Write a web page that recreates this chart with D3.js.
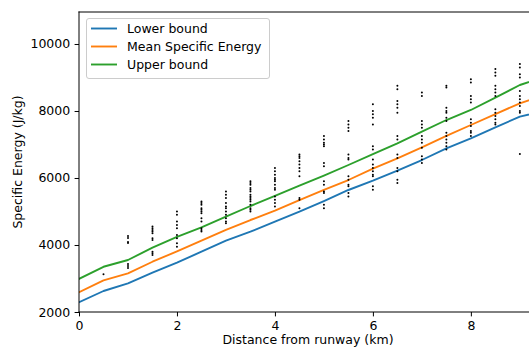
<!DOCTYPE html>
<html>
<head>
<meta charset="utf-8">
<script src="https://cdn.jsdelivr.net/npm/d3@7"></script>
<style>
  body { margin: 0; background: #fff; overflow: hidden; }
  svg { display: block; font-family: "DejaVu Sans", sans-serif; }
</style>
</head>
<body>
<div id="chart"></div>
<script>
// Declare constants
const FRAME_WIDTH = 529;
const FRAME_HEIGHT = 350;
const MARGINS = {left: 79, top: 12};
const VIS_WIDTH = 458;
const VIS_HEIGHT = 300;

// line data (km, J/kg)
const distances = [0, 0.5, 1, 1.5, 2, 2.5, 3, 3.5, 4, 4.5, 5, 5.5, 6, 6.5, 7, 7.5, 8, 8.5, 9, 9.5];
const lowerBound = [2290, 2627, 2857, 3173, 3475, 3800, 4128, 4397, 4696, 4994, 5313, 5642, 5919, 6218, 6537, 6886, 7184, 7513, 7830, 8000];
const meanEnergy = [2590, 2945, 3155, 3500, 3810, 4128, 4448, 4746, 5024, 5343, 5642, 5940, 6278, 6587, 6916, 7254, 7582, 7910, 8230, 8480];
const upperBound = [2990, 3350, 3552, 3920, 4240, 4528, 4845, 5164, 5463, 5770, 6070, 6388, 6716, 7035, 7382, 7731, 8030, 8397, 8776, 9020];

// measured points, one list per distance
const pointDistances = [0.5, 1, 1.5, 2, 2.5, 3, 3.5, 4, 4.5, 5, 5.5, 6, 6.5, 7, 7.5, 8, 8.5, 9];
const pointValues = [
  [3125],
  [4270, 4210, 4090, 4060, 3430, 3370, 3310],
  [4550, 4500, 4450, 4400, 4350, 4200, 4150, 3800, 3750, 3700],
  [5000, 4900, 4700, 4600, 4500, 4300, 4200, 4050, 3950],
  [5300, 5250, 5200, 5100, 5050, 5000, 4950, 4800, 4700, 4500, 4450, 4400],
  [5600, 5500, 5400, 5250, 5150, 5100, 5000, 4900, 4800, 4700, 4650],
  [5900, 5850, 5800, 5700, 5650, 5600, 5500, 5450, 5400, 5350, 5300, 5200, 5100, 5050, 5000],
  [6300, 6200, 6100, 6000, 5950, 5900, 5800, 5700, 5650, 5450, 5350, 5250, 5150],
  [6700, 6650, 6600, 6500, 6400, 6300, 6200, 6050, 5400, 5350, 5100],
  [7250, 7150, 7050, 7000, 6950, 6450, 6350, 5900, 5800, 5600, 5550, 5200, 5100],
  [7700, 7600, 7500, 7400, 6700, 6600, 6550, 6050, 5950, 5800, 5750, 5550, 5450],
  [8200, 8000, 7900, 7800, 7600, 6950, 6850, 6550, 6400, 6300, 6200, 6100, 6050, 5750, 5650],
  [8750, 8650, 8300, 8200, 8100, 7950, 7250, 7150, 6700, 6600, 6300, 6200, 5950, 5850],
  [8550, 8450, 7700, 7600, 7500, 7250, 7150, 7050, 6900, 6650, 6550, 6450],
  [8750, 8700, 8100, 8000, 7950, 7800, 7700, 7350, 7250, 7150, 7050, 6950, 6850],
  [8950, 8850, 8450, 8350, 8250, 7750, 7650, 7550, 7400, 7350, 7250],
  [9250, 9150, 9050, 8750, 8650, 8550, 8450, 8050, 7950, 7850, 7750, 7650, 7600],
  [9400, 9300, 9100, 9000, 8600, 8450, 8350, 8250, 8150, 8000, 7950, 6720]
];

const xTicks = [0, 2, 4, 6, 8];
const yTicks = [2000, 4000, 6000, 8000, 10000];

const seriesNames = ["Lower bound", "Mean Specific Energy", "Upper bound"];
const seriesValues = [lowerBound, meanEnergy, upperBound];
const seriesColors = ["#1f77b4", "#ff7f0e", "#2ca02c"];

const FRAME = d3.select("#chart")
  .append("svg")
    .attr("width", FRAME_WIDTH)
    .attr("height", FRAME_HEIGHT);

// scales
const X_SCALE = d3.scaleLinear().domain([0, 9.35]).range([0, VIS_WIDTH]);
const Y_SCALE = d3.scaleLinear().domain([2000, 10955]).range([VIS_HEIGHT, 0]);

const plot = FRAME.append("g")
  .attr("transform", "translate(" + MARGINS.left + "," + MARGINS.top + ")");

plot.append("clipPath").attr("id", "clip")
  .append("rect").attr("width", VIS_WIDTH).attr("height", VIS_HEIGHT);

const inner = plot.append("g").attr("clip-path", "url(#clip)");

// lines
const line = d3.line()
  .x((d, i) => X_SCALE(distances[i]))
  .y((d) => Y_SCALE(d));

seriesValues.forEach((vals, k) => {
  inner.append("path")
    .datum(vals)
    .attr("d", line)
    .attr("fill", "none")
    .attr("stroke", seriesColors[k])
    .attr("stroke-width", 1.9)
    .attr("stroke-linejoin", "round")
    .attr("stroke-linecap", "square");
});

// points
const points = [];
pointDistances.forEach((x, i) => {
  pointValues[i].forEach((v) => points.push({x: x, v: v}));
});

inner.selectAll("circle")
  .data(points)
  .enter()
  .append("circle")
    .attr("cx", (d) => X_SCALE(d.x))
    .attr("cy", (d) => Y_SCALE(d.v))
    .attr("r", 1)
    .attr("fill", "#000");

// axes
const xAxis = plot.append("g")
  .attr("transform", "translate(0," + VIS_HEIGHT + ")")
  .call(d3.axisBottom(X_SCALE).tickValues(xTicks).tickSize(4.4).tickPadding(4.4));

const yAxis = plot.append("g")
  .call(d3.axisLeft(Y_SCALE).tickValues(yTicks).tickFormat(d3.format("d"))
    .tickSize(4.4).tickPadding(4.4));

[xAxis, yAxis].forEach((ax) => {
  ax.attr("font-size", "12.5px").attr("font-family", "DejaVu Sans");
  ax.select(".domain").remove();
  ax.selectAll("line").attr("stroke", "#000").attr("stroke-width", 1);
  ax.selectAll("text").attr("fill", "#000");
});

// spines
const spine = (x1, y1, x2, y2) => plot.append("line")
  .attr("x1", x1).attr("y1", y1).attr("x2", x2).attr("y2", y2)
  .attr("stroke", "#000").attr("stroke-width", 1).attr("stroke-linecap", "square");
spine(0, 0, 0, VIS_HEIGHT);
spine(0, VIS_HEIGHT, VIS_WIDTH, VIS_HEIGHT);
spine(0, 0, VIS_WIDTH, 0);
spine(VIS_WIDTH, 0, VIS_WIDTH, VIS_HEIGHT);

// axis labels
FRAME.append("text")
  .attr("x", MARGINS.left + VIS_WIDTH / 2)
  .attr("y", 344)
  .attr("text-anchor", "middle")
  .attr("font-size", "12.5px")
  .text("Distance from runway (km)");

FRAME.append("text")
  .attr("transform", "translate(22," + (MARGINS.top + VIS_HEIGHT / 2) + ") rotate(-90)")
  .attr("text-anchor", "middle")
  .attr("font-size", "12.5px")
  .text("Specific Energy (J/kg)");

// legend
const legend = FRAME.append("g").attr("transform", "translate(86,18)");
legend.append("rect")
  .attr("x", 0.5).attr("y", 0.5)
  .attr("width", 183).attr("height", 60)
  .attr("rx", 2.5)
  .attr("fill", "#fff").attr("fill-opacity", 0.8)
  .attr("stroke", "#ccc").attr("stroke-width", 1);

seriesNames.forEach((name, k) => {
  const y = 10.5 + k * 18;
  legend.append("line")
    .attr("x1", 5).attr("x2", 31).attr("y1", y).attr("y2", y)
    .attr("stroke", seriesColors[k]).attr("stroke-width", 1.9);
  legend.append("text")
    .attr("x", 41).attr("y", y + 4.5)
    .attr("font-size", "12.5px")
    .text(name);
});
</script>
</body>
</html>
